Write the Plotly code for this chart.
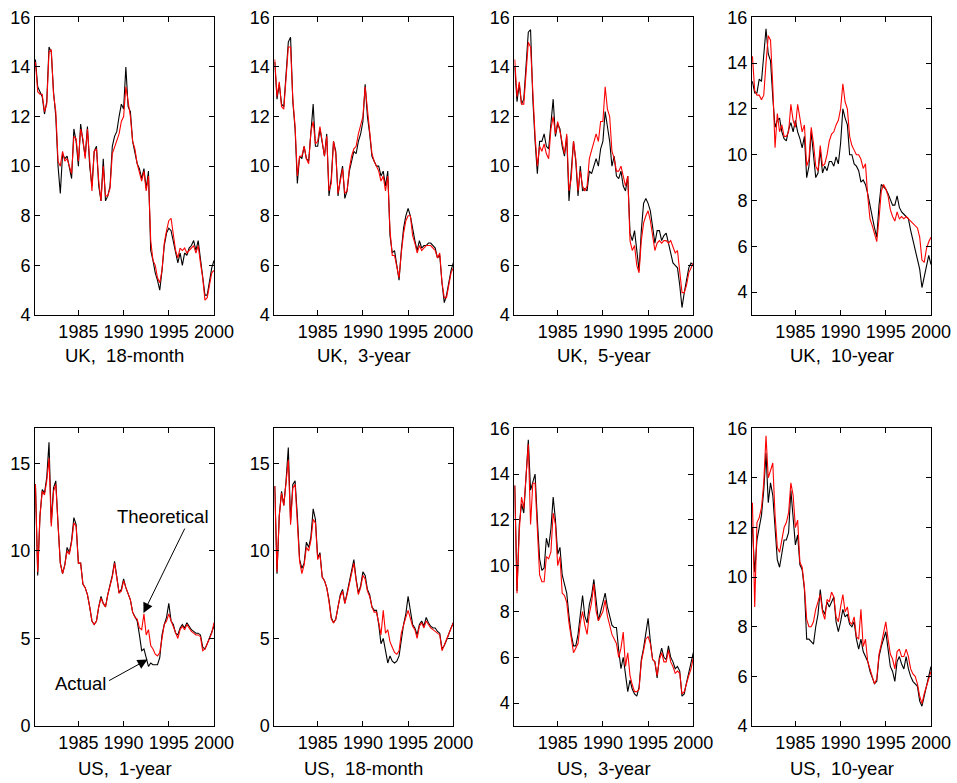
import plotly.graph_objects as go

# ---------------- data (quarterly readings, 1980Q2 .. 2000Q1) ----------------
dates = [1980.25 + 0.25 * i for i in range(80)]

uk18_actual = [
    14.3, 13.2, 13.0, 12.8, 12.1, 12.6, 14.8, 14.6, 13.0, 12.0, 10.0, 8.9,
    10.5, 10.3, 10.4, 10.0, 9.5, 11.5, 11.0, 10.0, 11.7, 11.0, 10.4, 11.6,
    10.0, 9.2, 10.6, 10.8, 9.2, 8.6, 10.3, 8.6, 8.8, 9.2, 10.8, 11.2,
    11.4, 12.0, 12.5, 12.3, 14.0, 12.4, 12.2, 11.0, 10.6, 10.1, 9.9, 9.5,
    9.9, 9.1, 9.8, 6.6, 6.2, 5.7, 5.4, 5.0, 5.8, 6.8, 7.3, 7.5,
    7.4, 7.0, 6.5, 6.1, 6.5, 6.0, 6.5, 6.4, 6.7, 6.8, 7.0, 6.6,
    7.0, 6.3, 5.6, 4.8, 4.8, 5.3, 5.9, 6.2]
uk18_theory = [
    14.2, 13.0, 12.9, 12.9, 12.2, 12.5, 14.6, 14.7, 12.9, 12.2, 10.2, 10.0,
    10.6, 10.2, 10.3, 10.0, 9.7, 11.2, 11.1, 10.2, 11.5, 11.1, 10.3, 11.5,
    10.2, 9.0, 10.6, 10.7, 9.4, 8.6, 10.0, 8.8, 8.8, 9.1, 10.5, 10.8,
    11.0, 11.3, 11.8, 12.0, 13.2, 12.5, 12.0, 11.0, 10.7, 10.1, 9.8, 9.4,
    9.8, 9.0, 9.6, 7.0, 6.2, 6.0, 5.5, 5.3, 5.8, 6.9, 7.4, 7.8,
    7.9, 7.2, 6.6, 6.3, 6.7, 6.6, 6.7, 6.5, 6.6, 6.7, 6.8, 6.5,
    6.8, 6.1, 5.5, 4.6, 4.7, 5.2, 5.7, 5.8]

uk3_actual = [
    14.2, 12.7, 13.3, 12.5, 12.4, 13.6, 15.0, 15.2, 12.6, 11.5, 9.3, 10.4,
    10.3, 10.8, 10.3, 10.2, 11.5, 12.5, 10.8, 10.8, 11.5, 11.0, 10.4, 11.3,
    8.8, 9.5, 11.0, 10.6, 8.8, 9.5, 10.0, 8.7, 9.0, 9.8, 10.2, 10.6,
    10.5, 11.0, 11.3, 11.8, 13.3, 12.0, 11.3, 10.4, 10.2, 10.0, 10.0, 9.6,
    9.8, 9.2, 9.8, 7.2, 6.5, 6.6, 6.0, 5.4, 6.6, 7.5, 8.0, 8.3,
    8.0, 7.4, 7.0, 6.6, 7.0, 6.7, 6.8, 6.8, 6.9, 6.9, 6.8, 6.7,
    6.3, 6.4, 5.3, 4.5, 4.8, 5.3, 5.8, 6.1]
uk3_theory = [
    14.3, 12.8, 13.4, 12.4, 12.3, 13.4, 14.8, 14.8, 12.7, 11.6, 9.6, 10.4,
    10.4, 10.8, 10.3, 10.1, 11.4, 11.8, 10.9, 11.0, 11.6, 11.0, 10.4, 11.2,
    9.0, 9.3, 11.0, 10.5, 8.9, 9.4, 9.9, 8.9, 9.0, 9.9, 10.4, 10.7,
    10.8, 11.3, 11.6, 12.0, 13.2, 12.2, 11.5, 10.5, 10.2, 10.0, 9.8, 9.4,
    9.6, 9.0, 9.6, 7.4, 6.4, 6.4, 6.0, 5.5, 6.5, 7.3, 7.8, 8.0,
    8.0, 7.2, 6.9, 6.5, 6.8, 6.6, 6.7, 6.8, 6.8, 6.8, 6.7, 6.6,
    6.3, 6.5, 5.3, 4.7, 4.7, 5.2, 5.7, 5.9]

uk5_actual = [
    14.0, 12.6, 13.3, 12.5, 12.7, 14.0, 15.4, 15.5, 12.7, 11.0, 9.7, 11.0,
    11.0, 11.3, 10.8, 10.7, 11.8, 12.7, 11.2, 11.7, 11.5, 10.8, 10.4, 11.2,
    8.6, 9.8, 11.0, 10.2, 8.8, 10.0, 9.0, 9.1, 9.0, 9.8, 9.7, 10.0,
    10.3, 10.0, 10.7, 11.0, 12.2, 11.6, 11.0, 10.0, 10.4, 9.6, 9.5, 9.8,
    9.2, 9.0, 9.6, 7.3, 7.0, 7.4, 6.5, 5.8, 7.4, 8.5, 8.7, 8.5,
    8.2, 7.6, 6.9, 7.4, 7.4, 7.0, 7.2, 7.3, 6.9, 6.5, 6.1, 6.0,
    5.9, 5.2, 4.3, 4.9, 5.4, 5.9, 6.1, 6.0]
uk5_theory = [
    14.3, 12.8, 13.4, 12.5, 12.5, 13.8, 15.0, 14.8, 12.8, 11.2, 10.0, 10.8,
    10.6, 10.9, 10.5, 10.3, 11.5, 12.0, 11.3, 11.8, 11.4, 10.9, 10.5, 11.3,
    9.0, 9.5, 11.0, 10.3, 9.0, 9.8, 9.2, 9.0, 9.2, 10.3, 10.6, 10.9,
    11.3, 11.0, 11.8, 11.8, 13.2, 12.3, 12.0, 10.6, 10.3, 9.8, 9.8, 10.0,
    9.6, 9.2, 9.6, 7.0, 6.6, 6.8, 6.0, 5.7, 7.0, 7.7, 8.0, 8.2,
    7.8, 7.1, 6.6, 6.9, 7.0, 6.9, 7.0, 7.0, 6.9, 7.0, 6.7, 6.5,
    6.6, 5.8, 4.9, 4.9, 5.2, 5.7, 5.9, 6.1]

uk10_actual = [
    13.2, 12.7, 12.7, 13.3, 13.2, 14.5, 15.5, 14.4, 14.1, 12.5, 11.2, 11.5,
    11.6, 11.0, 10.7, 10.6, 11.1, 11.4, 11.0, 11.5, 11.0, 10.7, 10.3, 10.8,
    9.0, 9.5, 11.0, 10.0, 9.0, 9.2, 10.2, 9.2, 9.5, 9.3, 9.7, 9.7,
    9.5, 9.9, 9.6, 10.5, 12.0, 11.6, 11.3, 10.0, 10.0, 9.6, 9.5, 9.3,
    8.8, 8.9, 8.7, 8.3, 7.7, 7.3, 6.8, 6.4, 7.8, 8.7, 8.6, 8.5,
    8.3, 8.0, 7.8, 7.8, 8.2, 7.7, 7.5, 7.4, 7.3, 7.2, 6.7, 6.3,
    5.9, 5.5, 5.0, 4.2, 4.7, 5.2, 5.6, 5.2]
uk10_theory = [
    14.3, 12.8, 12.6, 12.6, 12.4, 12.6, 14.0, 15.2, 15.0, 13.0, 10.3, 11.8,
    11.0, 11.3, 10.8, 10.8, 11.0, 12.2, 11.5, 11.2, 12.2, 11.5, 11.0, 11.3,
    9.5, 9.8, 11.2, 10.5, 9.5, 9.3, 10.4, 9.5, 9.6, 10.0, 10.6, 10.9,
    11.0, 11.3, 11.5, 12.0, 13.1, 12.3, 12.0, 10.8, 10.4, 10.2, 10.0, 10.0,
    9.8, 9.4, 9.6, 8.2, 7.2, 6.9, 6.6, 6.2, 7.2, 8.4, 8.7, 8.5,
    8.2, 7.6, 7.3, 7.1, 7.5, 7.2, 7.3, 7.2, 7.3, 7.2, 7.1, 7.0,
    6.9, 6.8, 6.4, 5.4, 5.3, 5.9, 6.2, 6.4]

us1_actual = [
    13.8, 8.6, 12.0, 13.5, 13.3, 14.2, 16.2, 11.6, 13.6, 14.0, 11.5, 9.3,
    8.7, 9.2, 10.2, 9.9, 10.6, 11.9, 11.5, 9.3, 9.3, 8.1, 7.9, 7.5,
    6.8, 6.0, 5.8, 6.0, 6.8, 7.4, 7.0, 6.8, 7.5, 8.0, 8.6, 9.4,
    8.6, 7.6, 7.8, 8.4, 7.9, 7.6, 7.2, 6.5, 6.2, 6.0, 5.2, 4.3,
    4.4, 3.8, 3.4, 3.6, 3.5, 3.5, 3.5, 3.9, 5.2, 5.8, 6.2, 7.0,
    6.0, 5.8, 5.3, 5.2, 5.6, 5.8, 5.6, 5.9, 5.7, 5.5, 5.4, 5.3,
    5.3, 5.2, 4.5, 4.4, 4.7, 5.0, 5.3, 5.7]
us1_theory = [
    13.8, 8.8, 12.0, 13.4, 13.2, 14.0, 15.3, 11.4, 13.4, 13.8, 11.5, 9.3,
    8.7, 9.2, 10.0, 9.8, 10.5, 11.6, 11.4, 9.3, 9.3, 8.1, 7.9, 7.5,
    6.8, 6.0, 5.8, 6.0, 6.8, 7.3, 7.0, 6.8, 7.5, 8.0, 8.5, 9.3,
    8.5, 7.6, 7.7, 8.3, 7.9, 7.6, 7.2, 6.5, 6.2, 6.1, 5.6, 5.5,
    6.4, 5.2, 5.5, 4.6, 4.4, 4.1, 4.0, 4.2, 5.0, 5.8, 6.0, 6.4,
    6.0, 5.7, 5.3, 5.0, 5.5, 5.7, 5.5, 5.8, 5.6, 5.4, 5.3, 5.2,
    5.2, 5.1, 4.3, 4.4, 4.7, 5.0, 5.3, 5.9]

us18_actual = [
    13.7, 8.7, 12.0, 13.4, 12.6, 14.0, 15.9, 11.7, 13.8, 14.0, 12.0, 9.5,
    9.0, 9.3, 10.5, 10.2, 10.8, 12.4, 11.8, 9.6, 9.9, 8.5, 8.3, 7.9,
    7.2, 6.2, 5.9, 6.1, 6.8, 7.5, 7.8, 7.0, 7.6, 8.2, 8.7, 9.5,
    8.4, 7.6, 8.0, 8.8, 8.6, 7.8, 7.5, 6.8, 6.6, 6.6, 5.8, 4.7,
    5.0, 4.3, 3.6, 4.0, 3.7, 3.6, 3.7, 4.0, 5.0, 5.8, 6.4, 7.4,
    6.6, 5.8, 5.6, 5.2, 5.8, 6.0, 5.7, 6.2, 5.9, 5.7, 5.6, 5.6,
    5.4, 5.3, 4.4, 4.6, 4.9, 5.3, 5.6, 5.9]
us18_theory = [
    13.7, 8.8, 12.0, 13.3, 12.6, 13.9, 15.2, 11.5, 13.6, 13.8, 11.8, 9.4,
    8.7, 9.2, 10.2, 10.0, 10.6, 11.8, 11.6, 9.5, 9.8, 8.5, 8.3, 7.9,
    7.1, 6.1, 5.9, 6.1, 6.8, 7.4, 7.7, 7.0, 7.5, 8.1, 8.6, 9.3,
    8.3, 7.5, 7.9, 8.6, 8.4, 7.7, 7.4, 6.8, 6.5, 6.5, 5.9, 5.2,
    6.6, 5.3, 5.5, 4.8, 4.5, 4.2, 4.1, 4.3, 5.3, 5.8, 6.2, 6.6,
    6.2, 5.7, 5.5, 5.0, 5.7, 5.9, 5.6, 6.0, 5.8, 5.6, 5.5, 5.4,
    5.3, 5.2, 4.3, 4.6, 4.9, 5.2, 5.5, 5.9]

us3_actual = [
    13.5, 8.9, 11.8, 12.7, 12.3, 13.8, 15.5, 13.3, 13.7, 14.0, 12.0, 10.3,
    9.8, 9.9, 11.2, 10.8, 11.6, 13.0, 12.0, 10.5, 10.8, 9.6, 9.2, 8.8,
    7.8, 7.0, 6.5, 6.5, 7.0, 7.8, 8.7, 7.8, 7.5, 8.3, 8.7, 9.4,
    8.5, 7.6, 8.0, 8.4, 8.8, 8.2, 7.8, 7.4, 7.3, 7.3, 6.3, 5.5,
    6.0, 5.2, 4.5, 5.0, 4.6, 4.4, 4.3, 4.7, 5.9, 6.4, 7.0, 7.7,
    6.7, 5.9, 5.8, 5.1, 6.0, 6.4, 6.0, 5.9, 6.5, 6.0, 5.8, 5.5,
    5.6, 5.4, 4.3, 4.4, 4.9, 5.3, 5.7, 6.2]
us3_theory = [
    13.5, 8.8, 11.5, 13.0, 12.5, 13.8, 15.3, 11.8, 13.6, 13.6, 11.5, 9.6,
    9.3, 9.3, 10.4, 10.3, 10.6, 12.3, 11.8, 10.0, 10.4, 8.8, 8.7, 8.4,
    7.5, 6.8, 6.2, 6.4, 6.6, 7.5, 8.0, 7.4, 7.0, 7.9, 8.4, 9.2,
    8.0, 7.6, 7.8, 8.0, 8.5, 7.8, 7.4, 7.0, 6.8, 6.6, 6.0, 6.4,
    7.1, 5.6, 6.2, 5.2, 4.8, 4.5, 4.5, 4.6, 5.8, 6.3, 6.8, 6.9,
    6.6, 5.9, 5.8, 5.2, 5.9, 6.2, 5.8, 5.8, 6.3, 5.8, 5.6, 5.3,
    5.4, 5.3, 4.4, 4.5, 4.9, 5.2, 5.5, 6.0]

us10_actual = [
    12.0, 10.2, 11.5, 12.0, 12.5, 13.5, 15.0, 13.0, 13.8, 13.3, 12.0, 10.7,
    10.4, 11.0, 11.5, 11.5, 11.8, 13.5, 12.5, 11.3, 11.7, 10.5, 10.3, 9.5,
    7.5, 7.5, 7.4, 7.3, 8.0, 8.5, 9.5, 8.7, 8.5, 9.0, 8.8, 9.0,
    9.2, 8.2, 7.8, 8.2, 8.7, 8.4, 8.5, 8.1, 8.0, 8.2, 7.5, 7.1,
    7.5, 7.0, 6.8, 6.6, 6.2, 5.9, 5.7, 5.8, 6.8, 7.2, 7.5, 7.8,
    7.1, 6.4, 6.2, 5.8, 6.6, 6.8, 6.5, 6.3, 6.8, 6.3, 6.0, 5.8,
    5.7, 5.6, 5.0, 4.8, 5.2, 5.6, 6.0, 6.4]
us10_theory = [
    13.0, 8.8, 12.2, 12.4, 12.8, 13.8, 15.7, 14.0, 14.3, 14.6, 12.5, 11.2,
    11.0, 11.6, 12.0, 12.2, 12.6, 13.8, 13.3, 12.0, 12.3, 10.6, 10.4, 9.6,
    8.3, 8.0, 8.0, 8.2, 8.7, 9.0, 9.3, 8.6, 8.3, 9.1, 9.0, 9.4,
    9.2, 8.4, 8.2, 8.8, 9.3, 8.6, 8.8, 8.2, 8.1, 8.4, 7.6, 7.5,
    8.7, 7.2, 7.5, 6.6, 6.3, 6.0, 5.7, 5.9, 6.9, 7.3, 7.8, 8.2,
    7.5, 6.9, 6.7, 6.3, 7.0, 7.1, 6.8, 6.8, 7.1, 6.8, 6.3, 6.1,
    6.0, 5.7, 5.2, 4.9, 5.3, 5.6, 5.9, 6.2]

panel_titles = ["UK,  18-month", "UK,  3-year", "UK,  5-year", "UK,  10-year",
                "US,  1-year", "US,  18-month", "US,  3-year", "US,  10-year"]
actual_series = [uk18_actual, uk3_actual, uk5_actual, uk10_actual,
                 us1_actual, us18_actual, us3_actual, us10_actual]
theory_series = [uk18_theory, uk3_theory, uk5_theory, uk10_theory,
                 us1_theory, us18_theory, us3_theory, us10_theory]
y_ranges = [[4, 16], [4, 16], [4, 16], [3, 16], [0, 17], [0, 17], [3, 16], [4, 16]]
y_ticks = [[4, 6, 8, 10, 12, 14, 16]] * 4 + [[0, 5, 10, 15]] * 2 + [[4, 6, 8, 10, 12, 14, 16]] * 2
x_ticks = [1985, 1990, 1995, 2000]
x_range = [1980.2, 2000.0]

# ---------------- layout geometry (pixels) ----------------
W, H = 957, 783
cols = [(35, 214), (274.3, 453.3), (514.3, 693.3), (752, 931)]
rows = [(17.3, 315), (428.3, 726)]
title_y = [355, 768]
FONT = "Arial, Liberation Sans, sans-serif"

fig = go.Figure()
layout = dict(
    width=W, height=H, margin=dict(l=0, r=0, t=0, b=0, pad=0, autoexpand=False),
    paper_bgcolor="white", plot_bgcolor="white", showlegend=False,
    font=dict(family=FONT, size=18, color="black"),
)
annotations = []
for i in range(8):
    r, c = divmod(i, 4)
    xa = "xaxis" if i == 0 else f"xaxis{i+1}"
    ya = "yaxis" if i == 0 else f"yaxis{i+1}"
    xr = "x" if i == 0 else f"x{i+1}"
    yr = "y" if i == 0 else f"y{i+1}"
    l, rt = cols[c]
    t, b = rows[r]
    layout[xa] = dict(domain=[l / W, rt / W], range=x_range, anchor=yr,
                      tickvals=x_ticks, ticks="inside", ticklen=5, tickcolor="black",
                      showline=True, linecolor="black", linewidth=1, mirror="ticks",
                      showgrid=False, zeroline=False, tickfont=dict(size=18),
                      automargin=False)
    layout[ya] = dict(domain=[1 - b / H, 1 - t / H], range=y_ranges[i], anchor=xr,
                      tickvals=y_ticks[i], ticks="inside", ticklen=5, tickcolor="black",
                      showline=True, linecolor="black", linewidth=1, mirror="ticks",
                      showgrid=False, zeroline=False, tickfont=dict(size=18),
                      automargin=False)
    fig.add_trace(go.Scatter(x=dates, y=actual_series[i], mode="lines",
                             line=dict(color="black", width=1.1), xaxis=xr, yaxis=yr,
                             name="Actual"))
    fig.add_trace(go.Scatter(x=dates, y=theory_series[i], mode="lines",
                             line=dict(color="red", width=1.1), xaxis=xr, yaxis=yr,
                             name="Theoretical"))
    annotations.append(dict(text=panel_titles[i], xref="paper", yref="paper",
                            x=(l + rt) / 2 / W, y=1 - title_y[r] / H,
                            xanchor="center", yanchor="middle", showarrow=False,
                            font=dict(size=18.5, family=FONT)))

# arrows in the US 1-year panel
annotations += [
    dict(x=1992.2, y=6.45, xref="x5", yref="y5", text="", showarrow=True,
         ax=42, ay=-86, arrowhead=2, arrowsize=2, arrowwidth=1, arrowcolor="black"),
    dict(text="Theoretical", xref="paper", yref="paper", x=162.5 / W, y=1 - 516.5 / H,
         xanchor="center", yanchor="middle", showarrow=False, font=dict(size=18.5, family=FONT)),
    dict(x=1992.65, y=3.8, xref="x5", yref="y5", text="", showarrow=True,
         ax=-40, ay=22, arrowhead=2, arrowsize=2, arrowwidth=1, arrowcolor="black"),
    dict(text="Actual", xref="paper", yref="paper", x=80 / W, y=1 - 683 / H,
         xanchor="center", yanchor="middle", showarrow=False, font=dict(size=18.5, family=FONT)),
]
layout["annotations"] = annotations
fig.update_layout(**layout)
fig.write_html(
    "out.html",
    config={"displayModeBar": False},
    post_script="document.body.style.margin='0';document.body.style.padding='0';"
                "document.body.style.overflow='hidden';",
)
